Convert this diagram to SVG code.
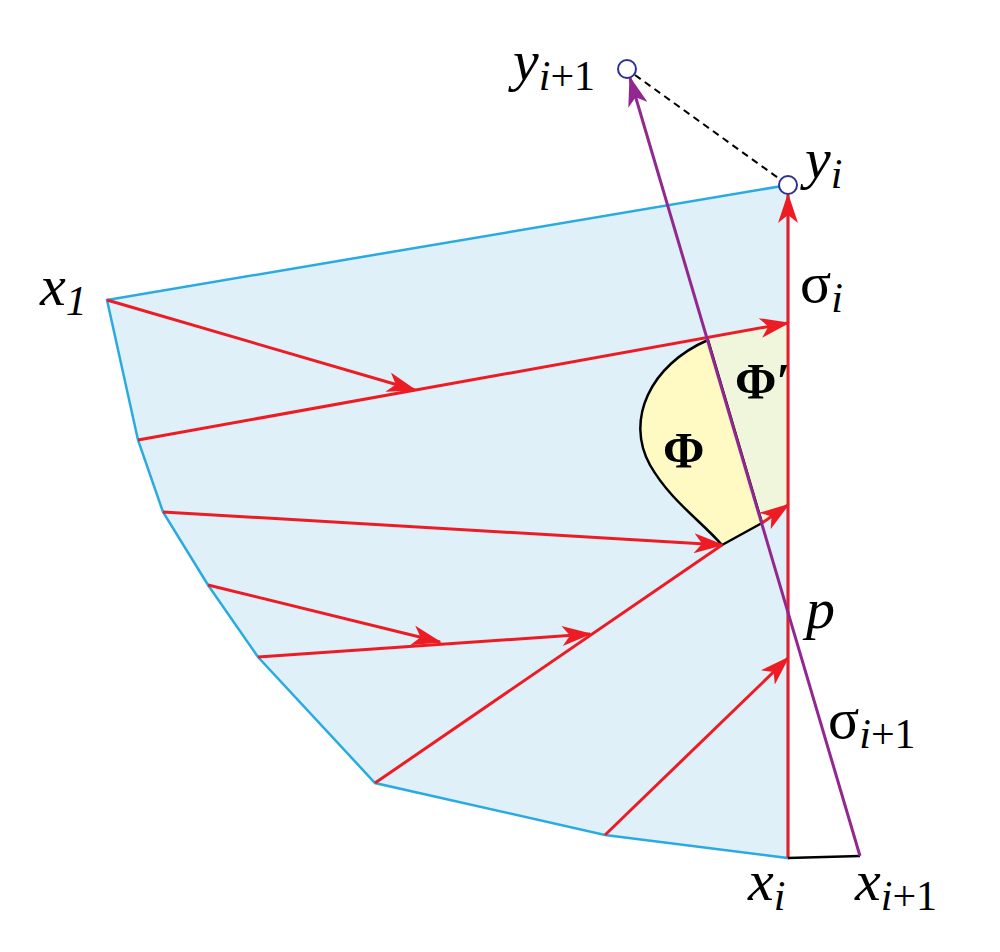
<svg xmlns="http://www.w3.org/2000/svg" width="1000" height="952" viewBox="0 0 1000 952">
<defs>
<marker id="ar" viewBox="0 0 30 20" refX="28" refY="10" markerWidth="30" markerHeight="20" markerUnits="userSpaceOnUse" orient="auto"><path d="M0,0 L30,10 L0,20 L8,10 Z" fill="#ed1c24"/></marker>
<marker id="ap" viewBox="0 0 30 20" refX="28" refY="10" markerWidth="30" markerHeight="20" markerUnits="userSpaceOnUse" orient="auto"><path d="M0,0 L30,10 L0,20 L8,10 Z" fill="#92278f"/></marker>
</defs>
<style>
.r{stroke:#ed1c24;stroke-width:3;fill:none}
text{font-family:"Liberation Serif","DejaVu Serif","Times New Roman",serif}
.t{font-style:italic;font-size:58px}
.s{font-size:42px}
.g{font-size:50px;font-weight:bold}
</style>
<g id="region">
<polygon points="788,185 107,300 138,440 163,512 208,585 258,657 375,783 605,835 788,858" fill="#dff0f8" stroke="#29abe2" stroke-width="2.5"/>
<polygon points="708,340 788,323 788,505 762,523" fill="#f0f6dc"/>
<path d="M708,340 C650,365 625,420 650,465 C670,500 700,520 722,545 L762,523 Z" fill="#fff9c4" stroke="#000" stroke-width="2.5"/>
</g>
<g id="connectors">
<line class="r" x1="107" y1="300" x2="415" y2="390" marker-end="url(#ar)"/>
<line class="r" x1="138" y1="440" x2="788" y2="323" marker-end="url(#ar)"/>
<line class="r" x1="163" y1="512" x2="722" y2="545" marker-end="url(#ar)"/>
<line class="r" x1="208" y1="585" x2="440" y2="642" marker-end="url(#ar)"/>
<line class="r" x1="258" y1="657" x2="590" y2="634" marker-end="url(#ar)"/>
<line class="r" x1="375" y1="783" x2="722" y2="545"/>
<line class="r" x1="762" y1="523" x2="788" y2="505" marker-end="url(#ar)"/>
<line class="r" x1="605" y1="835" x2="788" y2="658" marker-end="url(#ar)"/>
<line class="r" x1="788" y1="858" x2="788" y2="195" marker-end="url(#ar)"/>
<line stroke="#000" stroke-width="2.5" x1="788" y1="858" x2="860" y2="856"/>
<line stroke="#92278f" stroke-width="3" x1="860" y1="856" x2="630" y2="78" marker-end="url(#ap)"/>
<line stroke="#000" stroke-width="2" stroke-dasharray="7,5" x1="635" y1="75" x2="781" y2="180"/>
</g>
<g id="points">
<circle cx="627" cy="69" r="9" fill="#fff" stroke="#2e3192" stroke-width="2"/>
<circle cx="788" cy="185" r="9" fill="#fff" stroke="#2e3192" stroke-width="2"/>
</g>
<g id="labels">
<text class="t" x="40" y="305">x<tspan class="s" dy="10">1</tspan></text>
<text class="t" x="513" y="80">y<tspan class="s" dy="10">i<tspan font-style="normal">+1</tspan></tspan></text>
<text class="t" x="805" y="178">y<tspan class="s" dy="10">i</tspan></text>
<text class="t" x="800" y="302"><tspan font-style="normal">σ</tspan><tspan class="s" dy="10">i</tspan></text>
<text class="t" x="806" y="628">p</text>
<text class="t" x="828" y="738"><tspan font-style="normal">σ</tspan><tspan class="s" dy="10">i<tspan font-style="normal">+1</tspan></tspan></text>
<text class="t" x="748" y="900">x<tspan class="s" dy="10">i</tspan></text>
<text class="t" x="855" y="900">x<tspan class="s" dy="10">i<tspan font-style="normal">+1</tspan></tspan></text>
<text class="g" x="735" y="398">Φ′</text>
<text class="g" x="663" y="467">Φ</text>
</g>
</svg>
